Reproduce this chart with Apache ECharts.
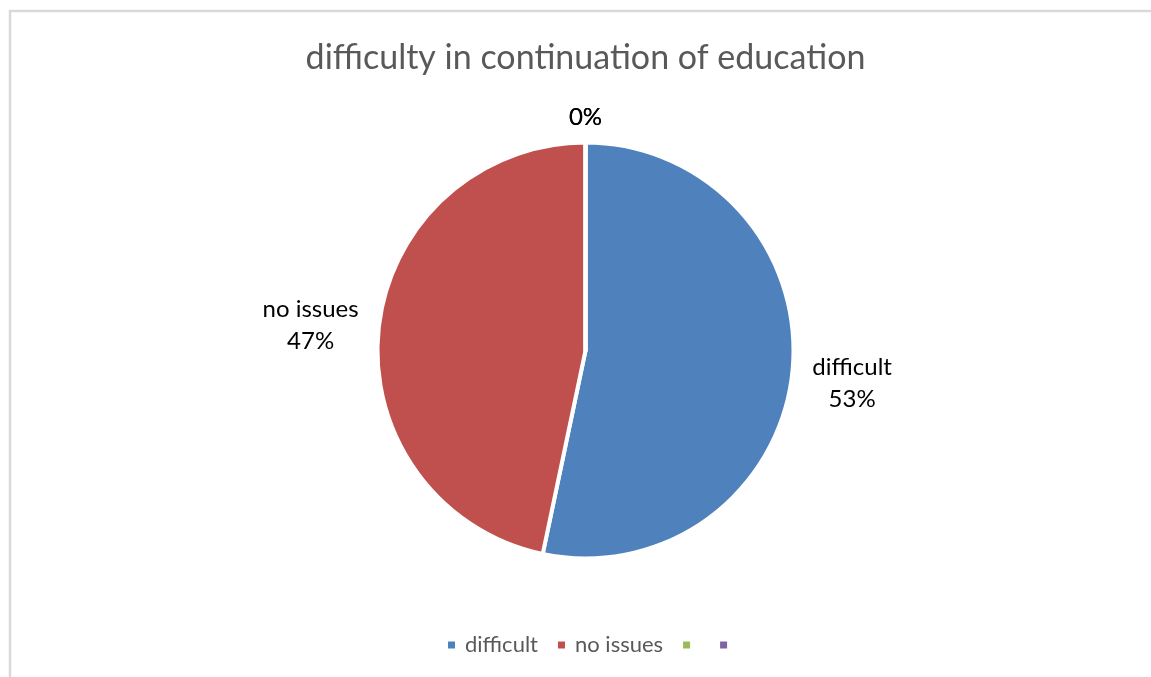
<!DOCTYPE html>
<html>
<head>
<meta charset="utf-8">
<script src="https://cdn.jsdelivr.net/npm/echarts@6/dist/echarts.min.js"></script>
<style>
html,body{margin:0;padding:0;background:#fff;}
#chart{width:1151px;height:677px;}
</style>
</head>
<body>
<div id="chart"></div>
<script>
const titleText = 'difficulty in continuation of education';
const categories = ['difficult', 'no issues', '\u200b', '\u200c'];
const values = [53.3, 46.7, 0, 0];
const colors = ['#4F81BD', '#C0504D', '#9BBB59', '#8064A2'];

const chart = echarts.init(document.getElementById('chart'));

const data = categories.map((name, i) => {
  const item = { name: name, value: values[i], itemStyle: { color: colors[i] } };
  if (values[i] === 0) {
    item.labelLine = { show: false, length: 25, length2: 0 };
    item.label = { distanceToLabelLine: 0 };
  }
  return item;
});

chart.setOption({
  backgroundColor: '#ffffff',
  animation: false,
  title: {
    text: titleText,
    left: 580.5,
    textAlign: 'center',
    top: 36,
    textStyle: { fontFamily: 'Lato', fontSize: 34, fontWeight: 'normal', color: '#595959' }
  },
  graphic: [{
    type: 'rect',
    shape: { x: 10, y: 11, width: 1200, height: 720 },
    style: { fill: 'none', stroke: '#D9D9D9', lineWidth: 2.5 },
    silent: true
  }],
  legend: {
    data: categories,
    left: 441,
    top: 629,
    icon: 'rect',
    itemWidth: 9,
    itemHeight: 9,
    itemGap: 18,
    textStyle: { fontFamily: 'Lato', fontSize: 22, color: '#595959', padding: [0, 0, 0, 4] }
  },
  series: [{
    type: 'pie',
    center: [585.5, 350.5],
    radius: 208,
    startAngle: 90,
    clockwise: true,
    avoidLabelOverlap: false,
    itemStyle: { borderColor: '#ffffff', borderWidth: 4 },
    label: {
      show: true,
      position: 'outside',
      formatter: function (p) {
        const pct = Math.round(p.percent) + '%';
        return p.value ? '{c|' + p.name + '}\n{c|' + pct + '}' : '{c|' + pct + '}';
      },
      rich: {
        c: { align: 'center', fontFamily: 'Lato', fontSize: 24, color: '#000000', lineHeight: 32 }
      }
    },
    labelLine: { show: false, length: 10, length2: 5 },
    labelLayout: function (params) {
      if (values[params.dataIndex] === 0) {
        return { align: 'center' };
      }
      const midY = params.labelRect.y + params.labelRect.height / 2;
      return { dy: midY > 350.5 ? 10 : -3 };
    },
    emphasis: { disabled: true },
    data: data
  }]
});
</script>
</body>
</html>
